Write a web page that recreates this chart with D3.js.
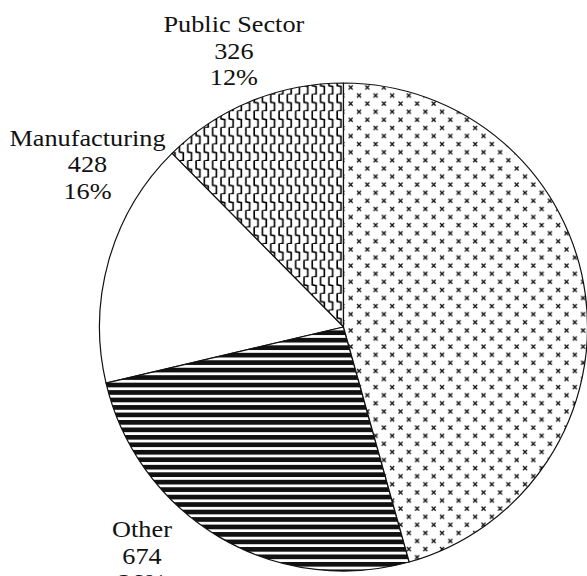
<!DOCTYPE html>
<html>
<head>
<meta charset="utf-8">
<script src="https://cdn.jsdelivr.net/npm/d3@7"></script>
<style>
  html, body { margin: 0; padding: 0; background: #fff; }
  svg { display: block; }
</style>
</head>
<body>
<svg id="chart" width="587" height="576"></svg>
<script>
// Employment by sector
const categories = ["Public Sector", "Manufacturing", "Other", "Services"];
const values = [326, 428, 674, 1200];

// Fill style per slice, same order as the categories
const fillKinds = ["zigzag", "plain", "stripes", "crosses"];
// Label nudges: [clockwise degrees, radial px] so labels clear each other
const labelShift = {
  "Public Sector": [0.7, -4.6],
  "Manufacturing": [16.45, 1.5],
  "Other": [10.85, 2.7]
};

const W = 587, H = 576;
const cx = 343.5, cy = 327, R = 244;
const labelR = 302;
const lineGap = 26.5;

const svg = d3.select("#chart");
svg.append("rect").attr("width", W).attr("height", H).attr("fill", "#fff");

const defs = svg.append("defs");

// Staggered small crosses
const pc = defs.append("pattern")
  .attr("id", "crosses").attr("patternUnits", "userSpaceOnUse")
  .attr("x", 393.3).attr("y", 202).attr("width", 16.6).attr("height", 16.2);
pc.append("rect").attr("width", 16.6).attr("height", 16.2).attr("fill", "#fff");
[[4, 4], [12.3, 12.1]].forEach(([x, y]) => {
  pc.append("path")
    .attr("d", `M${x - 2},${y - 2}L${x + 2},${y + 2}M${x - 2},${y + 2}L${x + 2},${y - 2}`)
    .attr("stroke", "#111").attr("stroke-width", 1.35).attr("fill", "none");
});

// Vertical zig-zag lines
const pz = defs.append("pattern")
  .attr("id", "zigzag").attr("patternUnits", "userSpaceOnUse")
  .attr("x", 0).attr("y", 0).attr("width", 8.3).attr("height", 16.6);
pz.append("rect").attr("width", 8.3).attr("height", 16.6).attr("fill", "#fff");
pz.append("path")
  .attr("d", "M2,-1V7.6L5.8,8.4V15.9L2,16.7V18")
  .attr("stroke", "#000").attr("stroke-width", 1.6).attr("fill", "none");

// Dark horizontal bands
const ps = defs.append("pattern")
  .attr("id", "stripes").attr("patternUnits", "userSpaceOnUse")
  .attr("x", 0).attr("y", 421.7).attr("width", 20).attr("height", 7.47);
ps.append("rect").attr("width", 20).attr("height", 7.47).attr("fill", "#fff");
ps.append("rect").attr("width", 20).attr("height", 4.7).attr("fill", "#111");

const fillFor = k => k === "plain" ? "#fff" : `url(#${k})`;

const total = d3.sum(values);
const pct = d3.format(".0%");

const pie = d3.pie().sort(null).startAngle(0).endAngle(-2 * Math.PI);
const arcs = pie(values);
const arc = d3.arc().innerRadius(0).outerRadius(R);

const g = svg.append("g").attr("transform", `translate(${cx},${cy})`);

g.selectAll("path.slice")
  .data(arcs)
  .join("path")
  .attr("class", "slice")
  .attr("d", arc)
  .attr("fill", (d, i) => fillFor(fillKinds[i]))
  .attr("stroke", "#111")
  .attr("stroke-width", 1.2)
  .attr("stroke-linejoin", "round");

// Label anchor for each slice; labels landing outside the drawing are dropped
const anchors = arcs.map((d, i) => {
  const [da, dr] = labelShift[categories[i]] || [0, 0];
  const a = (d.startAngle + d.endAngle) / 2 + da * Math.PI / 180;
  const r = labelR + dr;
  return { i, x: r * Math.sin(a), y: -r * Math.cos(a) };
}).filter(p => cx + p.x > 0 && cx + p.x < W);

const labels = g.selectAll("g.label")
  .data(anchors)
  .join("g")
  .attr("class", "label")
  .attr("transform", p => `translate(${p.x},${p.y}) scale(1.095,1)`);

const text = labels.append("text")
  .attr("text-anchor", "middle")
  .attr("font-family", "'Liberation Serif', 'Times New Roman', Times, serif")
  .attr("font-size", 24)
  .attr("fill", "#111");

text.each(function (p) {
  const v = values[p.i];
  const lines = [categories[p.i], String(v), pct(v / total)];
  d3.select(this).selectAll("tspan")
    .data(lines)
    .join("tspan")
    .attr("x", 0)
    .attr("y", (s, j) => (j - 1) * lineGap + 8)
    .text(s => s);
});
</script>
</body>
</html>
